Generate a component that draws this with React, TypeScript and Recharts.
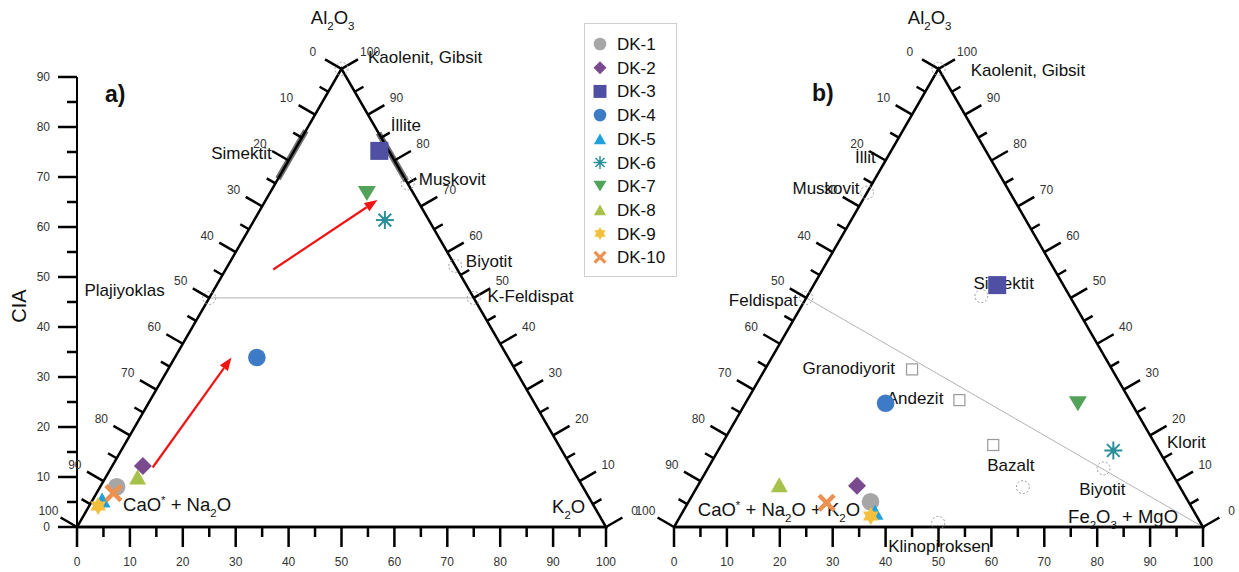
import React from 'react';
import { ScatterChart, Scatter, XAxis, YAxis, ReferenceLine, ReferenceDot } from 'recharts';

const FONT = '"Liberation Sans", Arial, Helvetica, sans-serif';

// ---------------- data ----------------
const sampleNames = ['DK-1', 'DK-2', 'DK-3', 'DK-4', 'DK-5', 'DK-6', 'DK-7', 'DK-8', 'DK-9', 'DK-10'];
const sampleColors = ['#a6a6a6', '#7a4a8e', '#4f4fa3', '#3d7bc6', '#1fa2dc', '#2b8f9a', '#52a25a', '#a6c24a', '#f3c03e', '#ec9150'];
const sampleMarkers = ['circle', 'diamond', 'square', 'circle', 'triangle', 'asterisk', 'triangleDown', 'triangle', 'star', 'cross'];

// panel a : Al2O3 – (CaO*+Na2O) – K2O  (%)
const panelA_Al2O3 = [8.8, 13.3, 82.1, 37.0, 5.9, 67.0, 72.8, 10.9, 4.6, 7.4];
const panelA_K2O = [3.1, 5.8, 16.1, 15.5, 1.8, 24.7, 18.4, 6.0, 1.7, 3.2];
// panel b : Al2O3 – (CaO*+Na2O+K2O) – (Fe2O3+MgO)  (%)
const panelB_Al2O3 = [5.5, 9.0, 52.8, 27.0, 3.2, 16.7, 26.9, 9.2, 2.4, 5.3];
const panelB_FeMg = [34.4, 30.1, 34.7, 26.5, 36.4, 74.7, 62.9, 15.3, 36.0, 26.2];

const xTicks = [0, 5, 10, 15, 20, 25, 30, 35, 40, 45, 50, 55, 60, 65, 70, 75, 80, 85, 90, 95, 100];
const ciaTicks = [0, 5, 10, 15, 20, 25, 30, 35, 40, 45, 50, 55, 60, 65, 70, 75, 80, 85, 90];
const edgeTicks = [0, 5, 10, 15, 20, 25, 30, 35, 40, 45, 50, 55, 60, 65, 70, 75, 80, 85, 90, 95, 100];

// reference minerals (Al2O3 %, right-vertex %)
const mineralsA = [
  { name: 'Kaolenit, Gibsit', al: 100, r: 0 },
  { name: 'Muskovit', al: 75, r: 25 },
  { name: 'Biyotit', al: 57, r: 43 },
  { name: 'K-Feldispat', al: 50, r: 50 },
  { name: 'Plajiyoklas', al: 50, r: 0 },
];
const clayBandsA = [
  { name: 'Simektit', al1: 86.5, r1: 0, al2: 76, r2: 0 },
  { name: 'İllite', al1: 86, r1: 14, al2: 75.5, r2: 24.5 },
];
const tieLinesA = [{ al1: 50, r1: 0, al2: 50, r2: 50 }];
const arrowsA = [
  { x1: 14.3, y1: 11.9, x2: 29.2, y2: 33.9 },
  { x1: 37.1, y1: 51.5, x2: 56.8, y2: 65.4 },
];

const mineralsB = [
  { name: 'Kaolenit, Gibsit', al: 100, r: 0 },
  { name: 'Muskovit', al: 73, r: 0 },
  { name: 'Feldispat', al: 50, r: 0 },
  { name: 'Simektit', al: 50.4, r: 32.9 },
  { name: 'Bazalt', al: 8.7, r: 61.6 },
  { name: 'Biyotit', al: 12.8, r: 74.8 },
  { name: 'Klinopiroksen', al: 0.9, r: 49.5 },
];
const rocksB = [
  { name: 'Granodiyorit', al: 34.4, r: 27.8 },
  { name: 'Andezit', al: 27.7, r: 40.1 },
  { name: 'Bazalt', al: 17.9, r: 51.4 },
];
const tieLinesB = [{ al1: 50, r1: 0, al2: 0, r2: 100 }];

// text annotations, in axis units
const vertexLabelsA = [
  { text: 'Al_2O_3', x: 44.2, y: 101.8, anchor: 'start' },
  { text: 'CaO^* + Na_2O', x: 8.7, y: 4.4, anchor: 'start' },
  { text: 'K_2O', x: 89.8, y: 4.0, anchor: 'start' },
];
const mineralLabelsA = [
  { text: 'Kaolenit, Gibsit', x: 55.0, y: 94.0, anchor: 'start' },
  { text: 'İllite', x: 59.3, y: 80.4, anchor: 'start' },
  { text: 'Muskovit', x: 64.6, y: 69.6, anchor: 'start' },
  { text: 'Biyotit', x: 73.5, y: 53.2, anchor: 'start' },
  { text: 'K-Feldispat', x: 77.6, y: 46.2, anchor: 'start' },
  { text: 'Plajiyoklas', x: 16.6, y: 47.4, anchor: 'end' },
  { text: 'Simektit', x: 36.8, y: 74.7, anchor: 'end' },
];
const tagA = { text: 'a)', x: 5.3, y: 86.7 };
const ciaTitle = { text: 'CIA', x: -11, y: 44.2 };

const vertexLabelsB = [
  { text: 'Al_2O_3', x: 44.2, y: 101.8, anchor: 'start' },
  { text: 'CaO^* + Na_2O + K_2O', x: 4.5, y: 3.4, anchor: 'start' },
  { text: 'Fe_2O_3 + MgO', x: 74.5, y: 2.0, anchor: 'start' },
];
const mineralLabelsB = [
  { text: 'Kaolenit, Gibsit', x: 56.1, y: 91.3, anchor: 'start' },
  { text: 'İllit', x: 34.2, y: 74.0, anchor: 'start' },
  { text: 'Muskovit', x: 22.4, y: 67.7, anchor: 'start' },
  { text: 'Feldispat', x: 23.4, y: 45.3, anchor: 'end' },
  { text: 'Simektit', x: 56.6, y: 48.8, anchor: 'start' },
  { text: 'Granodiyorit', x: 41.8, y: 31.7, anchor: 'end' },
  { text: 'Andezit', x: 40.2, y: 25.7, anchor: 'start' },
  { text: 'Bazalt', x: 59.2, y: 12.4, anchor: 'start' },
  { text: 'Biyotit', x: 76.6, y: 7.5, anchor: 'start' },
  { text: 'Klorit', x: 93.2, y: 16.9, anchor: 'start' },
  { text: 'Klinopiroksen', x: 40.5, y: -3.9, anchor: 'start' },
];
const tagB = { text: 'b)', x: 26.1, y: 86.8 };

// ---------------- geometry ----------------
const PLOT_W = 529;
const PLOT_H = 525;
const Y_MAX = 105;
const KY = (PLOT_W / 100) / (PLOT_H / Y_MAX);
const SIN60 = Math.sqrt(3) / 2;
const tern = (al: number, r: number) => ({ x: r + al / 2, y: al * SIN60 * KY });

// ---------------- drawing helpers ----------------
function RichText({ x, y, text, size, anchor = 'start', weight = 400, fill = '#111', rotate = 0 }: any) {
  const parts: { t: string; k: number }[] = [];
  let buf = '';
  for (let i = 0; i < text.length; i++) {
    const c = text[i];
    if ((c === '_' || c === '^') && i + 1 < text.length) {
      if (buf) { parts.push({ t: buf, k: 0 }); buf = ''; }
      parts.push({ t: text[i + 1], k: c === '_' ? 1 : -1 });
      i++;
    } else buf += c;
  }
  if (buf) parts.push({ t: buf, k: 0 });
  let cur = 0;
  const base = y + size * 0.35;
  return (
    <text x={x} y={base} textAnchor={anchor} fontSize={size} fontWeight={weight} fill={fill}
      fontFamily={FONT} style={{ whiteSpace: 'pre' }}
      transform={rotate ? `rotate(${rotate} ${x} ${y})` : undefined}>
      {parts.map((p, i) => {
        const off = p.k === 1 ? size * 0.28 : p.k === -1 ? -size * 0.38 : 0;
        const dy = off - cur;
        cur = off;
        return <tspan key={i} dy={dy} fontSize={p.k ? size * 0.62 : size}>{p.t}</tspan>;
      })}
    </text>
  );
}

function Marker({ kind, cx, cy, s, color }: any) {
  switch (kind) {
    case 'circle':
      return <circle cx={cx} cy={cy} r={8.8 * s} fill={color} />;
    case 'diamond': {
      const r = 9 * s;
      return <polygon points={`${cx},${cy - r} ${cx + r},${cy} ${cx},${cy + r} ${cx - r},${cy}`} fill={color} />;
    }
    case 'square': {
      const h = 9 * s;
      return <rect x={cx - h} y={cy - h} width={2 * h} height={2 * h} fill={color} />;
    }
    case 'triangle': {
      const w = 8.5 * s, h = 7.5 * s;
      return <polygon points={`${cx},${cy - h} ${cx + w},${cy + h} ${cx - w},${cy + h}`} fill={color} />;
    }
    case 'triangleDown': {
      const w = 9 * s, h = 7.5 * s;
      return <polygon points={`${cx - w},${cy - h} ${cx + w},${cy - h} ${cx},${cy + h}`} fill={color} />;
    }
    case 'asterisk': {
      const r = 9 * s;
      const d = r * Math.SQRT1_2;
      return (
        <g stroke={color} strokeWidth={2 * s}>
          <line x1={cx - r} y1={cy} x2={cx + r} y2={cy} />
          <line x1={cx} y1={cy - r} x2={cx} y2={cy + r} />
          <line x1={cx - d} y1={cy - d} x2={cx + d} y2={cy + d} />
          <line x1={cx - d} y1={cy + d} x2={cx + d} y2={cy - d} />
          <circle cx={cx} cy={cy} r={3 * s} fill={color} stroke="none" />
        </g>
      );
    }
    case 'star': {
      const r = 9 * s;
      const p1 = [0, 1, 2].map((k) => { const a = -Math.PI / 2 + k * 2 * Math.PI / 3; return `${cx + r * Math.cos(a)},${cy + r * Math.sin(a)}`; }).join(' ');
      const p2 = [0, 1, 2].map((k) => { const a = Math.PI / 2 + k * 2 * Math.PI / 3; return `${cx + r * Math.cos(a)},${cy + r * Math.sin(a)}`; }).join(' ');
      return <g fill={color}><polygon points={p1} /><polygon points={p2} /></g>;
    }
    case 'cross': {
      const r = 7.5 * s;
      return (
        <g stroke={color} strokeWidth={4.5 * s}>
          <line x1={cx - r} y1={cy - r} x2={cx + r} y2={cy + r} />
          <line x1={cx - r} y1={cy + r} x2={cx + r} y2={cy - r} />
        </g>
      );
    }
    default:
      return <circle cx={cx} cy={cy} r={8 * s} fill={color} />;
  }
}

const NoDot = () => <g />;

const BottomTick = (p: any) => {
  const { x, y, payload } = p;
  const v = payload.value;
  const major = v % 10 === 0;
  return (
    <g>
      <line x1={x} y1={y} x2={x} y2={y + (major ? 20 : 10)} stroke="#000" strokeWidth={2.5} />
      {major && (
        <text x={x} y={y + 39} textAnchor="middle" fontSize={12} fill="#333" fontFamily={FONT}>{v}</text>
      )}
    </g>
  );
};

const CiaTick = (p: any) => {
  const { x, y, payload } = p;
  const v = payload.value;
  const major = v % 10 === 0;
  return (
    <g>
      <line x1={x} y1={y} x2={x - (major ? 19 : 10)} y2={y} stroke="#000" strokeWidth={2.5} />
      {major && (
        <text x={x - 27} y={y + 4} textAnchor="end" fontSize={12} fill="#333" fontFamily={FONT}>{v}</text>
      )}
    </g>
  );
};

const EDGE_DIR: any = { left: [-SIN60, -0.5], right: [SIN60, -0.5] };
const EdgeTick = (p: any) => {
  const { cx, cy, side } = p;
  const v = (p.payload ?? p).v;
  const major = v % 10 === 0;
  const [dx, dy] = EDGE_DIR[side];
  const len = major ? 19 : 10;
  return (
    <g>
      <line x1={cx} y1={cy} x2={cx + dx * len} y2={cy + dy * len} stroke="#000" strokeWidth={2.5} />
      {major && (
        <text x={cx + dx * 33} y={cy + dy * 33 + 4} textAnchor="middle" fontSize={12} fill="#333" fontFamily={FONT}>{v}</text>
      )}
    </g>
  );
};

const ArrowShape = (p: any) => {
  const { x1, y1, x2, y2 } = p;
  const ang = Math.atan2(y2 - y1, x2 - x1);
  const L = 13, W = 5;
  const bx = x2 - L * Math.cos(ang), by = y2 - L * Math.sin(ang);
  const nx = -Math.sin(ang), ny = Math.cos(ang);
  return (
    <g>
      <line x1={x1} y1={y1} x2={bx} y2={by} stroke="#f01414" strokeWidth={2.2} />
      <polygon points={`${x2},${y2} ${bx + nx * W},${by + ny * W} ${bx - nx * W},${by - ny * W}`} fill="#f01414" />
    </g>
  );
};

function TernaryPanel(props: any) {
  const { width, margin, cia, al, rr, minerals, rocks, bands, ties, arrows, vertexLabels, mineralLabels, tag } = props;
  const outline = [tern(0, 0), tern(100, 0), tern(0, 100), tern(0, 0)];
  const leftTicks = edgeTicks.map((v) => ({ ...tern(100 - v, 0), v }));
  const rightTicks = edgeTicks.map((v) => ({ ...tern(v, 100 - v), v }));
  const mineralPts = minerals.map((m: any) => tern(m.al, m.r));
  const rockPts = rocks.map((m: any) => tern(m.al, m.r));

  return (
    <ScatterChart width={width} height={572} margin={margin}>
      <XAxis type="number" dataKey="x" domain={[0, 100]} ticks={xTicks} interval={0}
        tickSize={0} tickMargin={0} tickLine={false} height={45}
        axisLine={{ stroke: '#000', strokeWidth: 2.5 }} tick={<BottomTick />} />
      {cia ? (
        <YAxis type="number" dataKey="y" domain={[0, Y_MAX]} ticks={ciaTicks} interval={0}
          tickSize={0} tickMargin={0} tickLine={false} axisLine={false} width={77} tick={<CiaTick />} />
      ) : (
        <YAxis type="number" dataKey="y" domain={[0, Y_MAX]} hide />
      )}
      {cia && (
        <ReferenceLine segment={[{ x: 0, y: 0 }, { x: 0, y: 90 }]} stroke="#000" strokeWidth={2} />
      )}

      {bands.map((b: any, i: number) => (
        <Scatter key={'band' + i} data={[tern(b.al1, b.r1), tern(b.al2, b.r2)]}
          line={{ stroke: '#6f6f6f', strokeWidth: 6 }} shape={NoDot} isAnimationActive={false} />
      ))}
      {ties.map((t: any, i: number) => (
        <Scatter key={'tie' + i} data={[tern(t.al1, t.r1), tern(t.al2, t.r2)]}
          line={{ stroke: '#b3b3b3', strokeWidth: 1 }} shape={NoDot} isAnimationActive={false} />
      ))}

      <Scatter data={outline} line={{ stroke: '#000', strokeWidth: 2.5 }} shape={NoDot} isAnimationActive={false} />
      <Scatter data={leftTicks} shape={(p: any) => <EdgeTick {...p} side="left" />} isAnimationActive={false} />
      <Scatter data={rightTicks} shape={(p: any) => <EdgeTick {...p} side="right" />} isAnimationActive={false} />

      <Scatter data={mineralPts} isAnimationActive={false}
        shape={(p: any) => <circle cx={p.cx} cy={p.cy} r={6.5} fill="none" stroke="#9a9a9a" strokeWidth={1} strokeDasharray="2 2" />} />
      <Scatter data={rockPts} isAnimationActive={false}
        shape={(p: any) => <rect x={p.cx - 5.5} y={p.cy - 5.5} width={11} height={11} fill="#fff" stroke="#9a9a9a" strokeWidth={1.2} />} />

      {[...vertexLabels, ...mineralLabels].map((l: any, i: number) => (
        <ReferenceDot key={'lbl' + i} x={l.x} y={l.y} r={0} ifOverflow="visible"
          shape={(p: any) => <RichText x={p.cx} y={p.cy} text={l.text} anchor={l.anchor}
            size={i < vertexLabels.length ? 18.5 : 17} />} />
      ))}
      <ReferenceDot x={tag.x} y={tag.y} r={0} ifOverflow="visible"
        shape={(p: any) => <RichText x={p.cx} y={p.cy} text={tag.text} size={23} weight={700} fill="#111" />} />
      {cia && (
        <ReferenceDot x={ciaTitle.x} y={ciaTitle.y} r={0} ifOverflow="visible"
          shape={(p: any) => <RichText x={p.cx} y={p.cy} text={ciaTitle.text} size={20} anchor="middle" rotate={-90} />} />
      )}

      {sampleNames.map((n, i) => (
        <Scatter key={n} name={n} data={[tern(al[i], rr[i])]} isAnimationActive={false}
          shape={(p: any) => <Marker kind={sampleMarkers[i]} cx={p.cx} cy={p.cy} s={1} color={sampleColors[i]} />} />
      ))}

      {arrows.map((a: any, i: number) => (
        <ReferenceLine key={'arr' + i} segment={[{ x: a.x1, y: a.y1 }, { x: a.x2, y: a.y2 }]}
          stroke="#f01414" shape={ArrowShape} />
      ))}
    </ScatterChart>
  );
}

function LegendBox() {
  return (
    <div style={{ position: 'absolute', left: 584, top: 23, width: 93, height: 254, border: '1px solid #cfcfcf', background: '#fff', boxSizing: 'border-box' }}>
      <svg width={91} height={252}>
        {sampleNames.map((n, i) => {
          const cy = 20 + i * 23.7;
          return (
            <g key={n}>
              <Marker kind={sampleMarkers[i]} cx={15} cy={cy} s={0.72} color={sampleColors[i]} />
              <text x={32} y={cy + 6} fontSize={17} fill="#111" fontFamily={FONT}>{n}</text>
            </g>
          );
        })}
      </svg>
    </div>
  );
}

export default function App() {
  return (
    <div style={{ position: 'absolute', left: 0, top: 0, width: 1239, height: 572, background: '#fff', overflow: 'hidden', fontFamily: FONT }}>
      <div style={{ position: 'absolute', left: 0, top: 0 }}>
        <TernaryPanel width={640} margin={{ top: 2, right: 34, bottom: 0, left: 0 }} cia
          al={panelA_Al2O3} rr={panelA_K2O} minerals={mineralsA} rocks={[]} bands={clayBandsA}
          ties={tieLinesA} arrows={arrowsA} vertexLabels={vertexLabelsA} mineralLabels={mineralLabelsA} tag={tagA} />
      </div>
      <div style={{ position: 'absolute', left: 620, top: 0 }}>
        <TernaryPanel width={619} margin={{ top: 2, right: 36, bottom: 0, left: 54 }} cia={false}
          al={panelB_Al2O3} rr={panelB_FeMg} minerals={mineralsB} rocks={rocksB} bands={[]}
          ties={tieLinesB} arrows={[]} vertexLabels={vertexLabelsB} mineralLabels={mineralLabelsB} tag={tagB} />
      </div>
      <LegendBox />
    </div>
  );
}
